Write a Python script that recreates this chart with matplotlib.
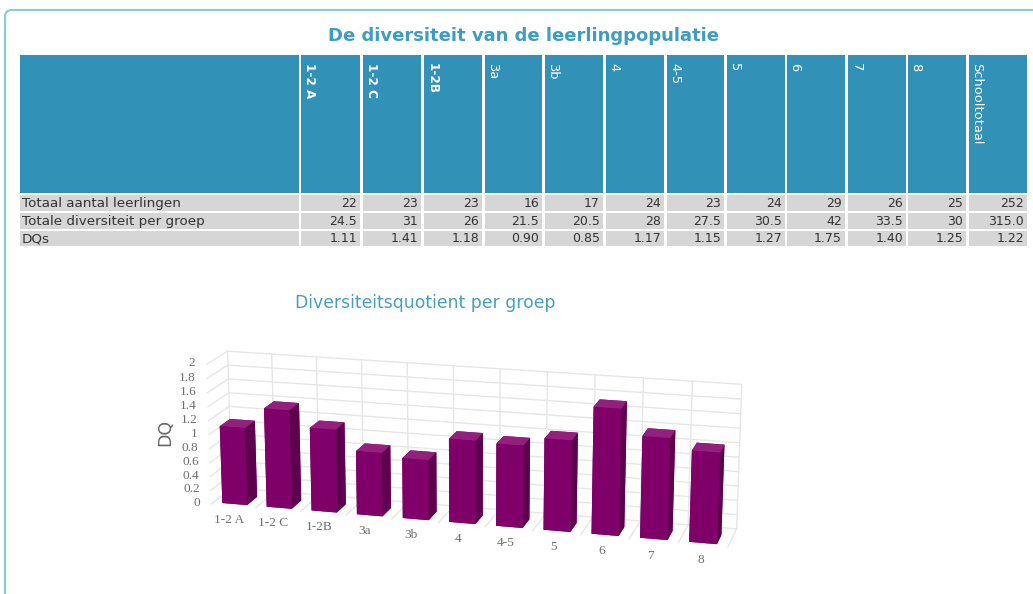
import matplotlib
matplotlib.use("Agg")
import matplotlib.pyplot as plt
from matplotlib.patches import Rectangle, FancyBboxPatch
from mpl_toolkits.mplot3d import proj3d
import numpy as np

W, H = 1033, 594
title = "De diversiteit van de leerlingpopulatie"
subtitle = "Diversiteitsquotient per groep"
columns = ["1-2 A", "1-2 C", "1-2B", "3a", "3b", "4", "4-5", "5", "6", "7", "8", "Schooltotaal"]
row_names = ["Totaal aantal leerlingen", "Totale diversiteit per groep", "DQs"]
totals = ["22", "23", "23", "16", "17", "24", "23", "24", "29", "26", "25", "252"]
diversity = ["24.5", "31", "26", "21.5", "20.5", "28", "27.5", "30.5", "42", "33.5", "30", "315.0"]
dqs_text = ["1.11", "1.41", "1.18", "0.90", "0.85", "1.17", "1.15", "1.27", "1.75", "1.40", "1.25", "1.22"]
groups = columns[:-1]
dq = [1.11, 1.41, 1.18, 0.90, 0.85, 1.17, 1.15, 1.27, 1.75, 1.40, 1.25]
y_ticks = [0, 0.2, 0.4, 0.6, 0.8, 1, 1.2, 1.4, 1.6, 1.8, 2]

col_left = [20, 301, 363, 424, 485, 545, 606, 667, 727, 787, 848, 908, 969]
col_right = [299, 360, 421, 482, 542, 603, 664, 724, 785, 845, 906, 966, 1027]
row_top = [55, 195, 213, 231]
row_bot = [193, 211, 229, 246]
BLUE = "#3291b6"
GREY = "#d6d6d6"

fig = plt.figure(figsize=(W / 100, H / 100), dpi=100, facecolor="white")
bg = fig.add_axes([0, 0, 1, 1])
bg.set_xlim(0, W)
bg.set_ylim(H, 0)
bg.axis("off")

bg.add_patch(FancyBboxPatch((5, 10), W + 40, H + 40, boxstyle="round,pad=0,rounding_size=7",
                            fc="white", ec="#8fc9dc", lw=1.6))
bg.text(523.5, 36, title, ha="center", va="center", color="#3f9dbf", fontsize=13,
        fontweight="bold", family="DejaVu Sans")
bg.text(425, 303, subtitle, ha="center", va="center", color="#45a0c0", fontsize=12.4,
        family="DejaVu Sans")

for c in range(len(col_left)):
    w = col_right[c] - col_left[c]
    bg.add_patch(Rectangle((col_left[c], row_top[0]), w, row_bot[0] - row_top[0], fc=BLUE, ec="none"))
    if c > 0:
        heavy = c <= 3
        bg.text(col_left[c] + 8, 63, columns[c - 1], rotation=-90, ha="center", va="top", color="white",
                fontsize=8.7 if heavy else 9.4, fontweight="bold" if heavy else "normal",
                family="DejaVu Sans")
    for r, vals in enumerate([totals, diversity, dqs_text]):
        bg.add_patch(Rectangle((col_left[c], row_top[r + 1]), w, row_bot[r + 1] - row_top[r + 1],
                               fc=GREY, ec="none"))
        ym = (row_top[r + 1] + row_bot[r + 1]) / 2 + 0.5
        if c == 0:
            bg.text(22, ym, row_names[r], ha="left", va="center", color="#333333", fontsize=9.7,
                    family="DejaVu Sans")
        else:
            bg.text(col_right[c] - 3, ym, vals[c - 1], ha="right", va="center", color="#333333",
                    fontsize=9, family="DejaVu Sans")

# 3D chart: a large square axes, because mplot3d keeps its axes square
S = 1200
CX, CY = 453, 462
ax = fig.add_axes([(CX - S / 2) / W, 1 - (CY + S / 2) / H, S / W, S / H], projection="3d",
                  proj_type="persp", focal_length=0.33)
ax.patch.set_alpha(0)
ax.set_axis_off()
ax.set_xlim(0, 11)
ax.set_ylim(0, 1)
ax.set_zlim(0, 2)
ax.set_box_aspect((11, 1.2, 3.05), zoom=1.35 * 400 / S)
ax.view_init(elev=16, azim=-75)

GRID = "#e6e6e6"
for v in y_ticks:
    ax.plot([0, 11], [1, 1], [v, v], color=GRID, lw=1)
    ax.plot([0, 0], [0, 1], [v, v], color=GRID, lw=1)
for i in range(12):
    ax.plot([i, i], [1, 1], [0, 2], color=GRID, lw=1)
    ax.plot([i, i], [0, 1], [0, 0], color=GRID, lw=1)

n = len(dq)
xs = np.arange(n) + 0.2
face = []
for _ in range(n):
    face += ["#7a0066", "#93207f", "#7f0068", "#7f0068", "#5e004e", "#5e004e"]
ax.bar3d(xs, np.full(n, 0.1), np.zeros(n), 0.56, 0.5, dq, color=face, shade=False)

fig.canvas.draw()
M = ax.get_proj()


def label(x, y, z, s, **kw):
    px, py, _ = proj3d.proj_transform(x, y, z, M)
    ax.text2D(px, py, s, transform=ax.transData, color="#6e6e6e", fontsize=9.6,
              family="Liberation Serif", va="center", **kw)


for i, g in enumerate(groups):
    label(i + 0.5, -0.25, -0.14, g, ha="center")
for v in y_ticks:
    label(-0.25, 0, v, f"{v:g}", ha="right")
bg.text(165, 432, "DQ", rotation=90, ha="center", va="center", color="#666666", fontsize=12.5,
        family="DejaVu Sans")

fig.savefig("out.png", dpi=100)
